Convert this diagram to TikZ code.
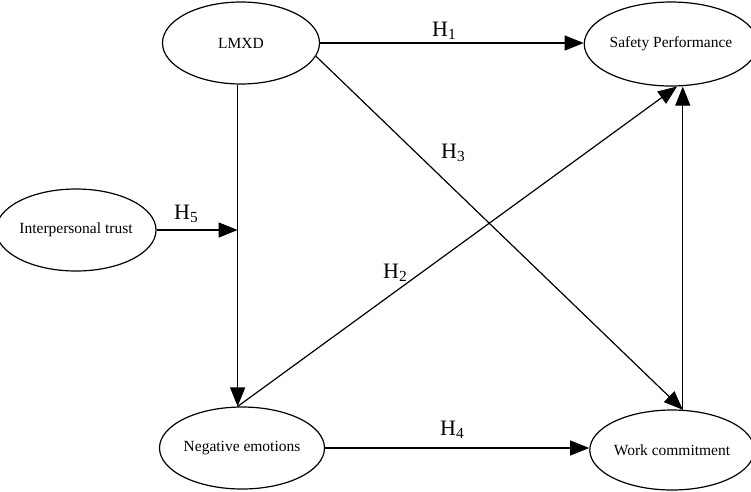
\documentclass[tikz,border=0pt]{standalone}
\usepackage{fontspec}
\setmainfont{Liberation Serif}
\usetikzlibrary{shapes.geometric,arrows.meta,calc}
\begin{document}
\begin{tikzpicture}[x=1pt,y=-1pt,
  construct/.style={draw,ellipse,line width=1.2pt,inner sep=0pt,
    minimum width=157pt,minimum height=82pt,font=\fontsize{15.5}{18}\selectfont},
  link/.style={line width=1.2pt,-{Triangle[length=19pt,width=15pt]}},
  hyp/.style={anchor=base west,inner sep=0pt,font=\fontsize{22}{24}\selectfont}]
\useasboundingbox (0,0) rectangle (751,491);
\node[construct] (lmxd) at (241,43) {LMXD};
\node[construct,minimum width=158pt,minimum height=84pt] (safety) at (671,44) {Safety Performance};
\node[construct,minimum width=151pt] (trust) at (76,230) {Interpersonal trust};
\node[construct] (neg) at (242,448) {Negative emotions};
\node[construct,minimum width=158pt,minimum height=80pt] (work) at (672,450) {Work commitment};
\coordinate (mod) at (trust.east -| neg.96);
% arrows
\draw[link] (lmxd.east) -- (lmxd.east -| safety.west);
\draw[link] (lmxd.-10) -- (work.75);
\draw[link] (work.75) -- (work.75 |- safety.south);
\draw[link] (neg.96) -- (safety.-82);
\draw[link] (neg.96 |- lmxd.south) -- (neg.96);
\draw[link] (trust.east) -- (mod);
\draw[link] (neg.east) -- (neg.east -| work.west);
% labels
\node[hyp] (h1) at (432,36) {H\textsubscript{1}};
\node[hyp] (h2) at (383,278) {H\textsubscript{2}};
\node[hyp] (h3) at (441,158) {H\textsubscript{3}};
\node[hyp] (h4) at (440,435) {H\textsubscript{4}};
\node[hyp] (h5) at (174,219) {H\textsubscript{5}};
\end{tikzpicture}
\end{document}
